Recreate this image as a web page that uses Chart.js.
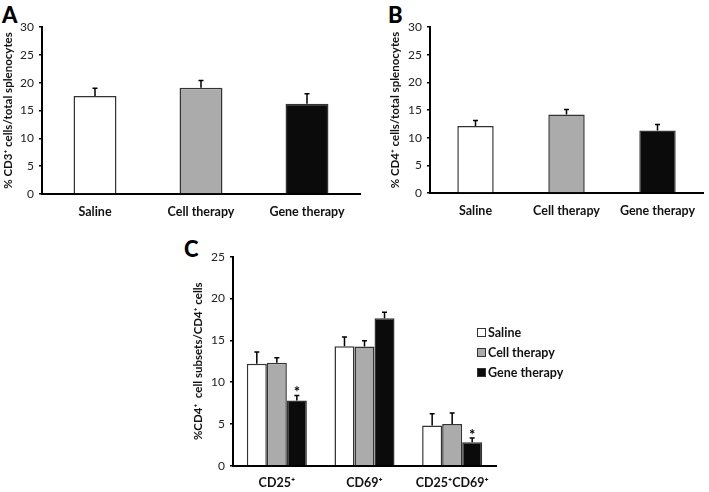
<!DOCTYPE html>
<html>
<head>
<meta charset="utf-8">
<script src="https://cdn.jsdelivr.net/npm/chart.js@4.4.0/dist/chart.umd.min.js"></script>
<style>
  body { margin: 0; background: #fff; width: 709px; height: 492px; position: relative; overflow: hidden; font-family: Lato, sans-serif; }
  .panel { position: absolute; }
  .letter { position: absolute; font-weight: 900; font-size: 22px; line-height: 1; color: #000; }
  #legend { position: absolute; left: 477px; top: 322px; font-weight: bold; font-size: 12.5px; color: #111; }
  #legend div { height: 20px; display: flex; align-items: center; }
  #legend .box { width: 9px; height: 9px; border: 1px solid #333; margin-right: 2px; box-sizing: border-box; }
</style>
</head>
<body>
<div class="letter" style="left:2px;top:4px">A</div>
<div class="letter" style="left:388px;top:4px">B</div>
<div class="letter" style="left:184px;top:238px">C</div>

<div class="panel" style="left:0;top:0;width:365px;height:230px"><canvas id="chartA"></canvas></div>
<div class="panel" style="left:387px;top:0;width:322px;height:230px"><canvas id="chartB"></canvas></div>
<div class="panel" style="left:190px;top:240px;width:310px;height:252px"><canvas id="chartC"></canvas></div>
<div id="legend"></div>

<script>
// data
const groups = ['Saline', 'Cell therapy', 'Gene therapy'];
const groupColors = ['#ffffff', '#ababab', '#0b0b0b'];

const cd3Mean = [17.6, 19.1, 16.2];
const cd3Err = [1.4, 1.3, 1.8];

const cd4Mean = [12.1, 14.2, 11.3];
const cd4Err = [1.0, 0.9, 1.1];

const subsets = ['CD25⁺', 'CD69⁺', 'CD25⁺CD69⁺'];
const salineMean = [12.2, 14.3, 4.8];
const salineErr = [1.4, 1.1, 1.4];
const cellMean = [12.3, 14.25, 5.0];
const cellErr = [0.6, 0.7, 1.3];
const geneMean = [7.8, 17.65, 2.8];
const geneErr = [0.6, 0.7, 0.5];
const geneSig = [true, false, true];

const FONT = 'Lato, sans-serif';

// upward-only error bars + significance stars
const errorBars = {
  id: 'errorBars',
  afterDatasetsDraw(chart) {
    const ctx = chart.ctx, y = chart.scales.y;
    chart.data.datasets.forEach((ds, di) => {
      if (!ds.errors) return;
      chart.getDatasetMeta(di).data.forEach((bar, i) => {
        const top = y.getPixelForValue(ds.data[i] + ds.errors[i]);
        ctx.save();
        ctx.strokeStyle = '#000';
        ctx.lineWidth = 1.5;
        ctx.beginPath();
        ctx.moveTo(bar.x, bar.y); ctx.lineTo(bar.x, top);
        ctx.moveTo(bar.x - 2.5, top); ctx.lineTo(bar.x + 2.5, top);
        ctx.stroke();
        if (ds.stars && ds.stars[i]) {
          ctx.fillStyle = '#000';
          ctx.font = 'bold 15px ' + FONT;
          ctx.textAlign = 'center';
          ctx.textBaseline = 'alphabetic';
          ctx.fillText('*', bar.x, top + 2);
        }
        ctx.restore();
      });
    });
  }
};

function barPanel(id, labels, datasets, opt) {
  const ctx = document.getElementById(id); if (!ctx) return;
  return new Chart(ctx, {
    type: 'bar',
    data: { labels, datasets },
    options: {
      responsive: true,
      maintainAspectRatio: false,
      animation: false,
      events: [],
      layout: { padding: { top: opt.padTop, right: opt.padRight, left: 0, bottom: 0 } },
      plugins: { legend: { display: false }, tooltip: { enabled: false } },
      scales: {
        x: {
          grid: { display: false, drawTicks: false },
          border: { display: true, color: '#000', width: 2 },
          ticks: { color: '#111', padding: 10, font: { family: FONT, size: 12.5, weight: 'bold' } },
          afterFit: s => { s.height = opt.xHeight; },
        },
        y: {
          min: 0, max: opt.yMax,
          ticks: { stepSize: 5, color: '#222', padding: 5, font: { family: FONT, size: 12 } },
          grid: { drawOnChartArea: false, drawTicks: true, tickLength: 3, color: '#000', lineWidth: 1.5 },
          border: { display: true, color: '#000', width: 2 },
          title: { display: true, text: opt.yTitle, color: '#111', padding: { top: 1, bottom: 0 },
                   font: { family: FONT, size: 11.5, weight: 'bold' } },
          afterFit: s => { s.width = opt.yWidth; },
        },
      },
    },
    plugins: [errorBars],
  });
}

Chart.defaults.font.family = FONT;

barPanel('chartA', groups, [{
  data: cd3Mean, errors: cd3Err, backgroundColor: groupColors,
  borderColor: '#333', borderWidth: 1.5, barPercentage: 0.405, categoryPercentage: 1,
}], { padTop: 27, padRight: 5, xHeight: 36, yWidth: 42, yMax: 30,
      yTitle: '% CD3⁺ cells/total splenocytes' });

barPanel('chartB', groups, [{
  data: cd4Mean, errors: cd4Err, backgroundColor: groupColors,
  borderColor: '#333', borderWidth: 1.5, barPercentage: 0.4, categoryPercentage: 1,
}], { padTop: 27, padRight: 6, xHeight: 37, yWidth: 43, yMax: 30,
      yTitle: '% CD4⁺ cells/total splenocytes' });

const subsetSeries = [
  { label: groups[0], data: salineMean, errors: salineErr, backgroundColor: groupColors[0] },
  { label: groups[1], data: cellMean, errors: cellErr, backgroundColor: groupColors[1] },
  { label: groups[2], data: geneMean, errors: geneErr, stars: geneSig, backgroundColor: groupColors[2] },
].map(d => Object.assign(d, { borderColor: '#333', borderWidth: 1.5, barPercentage: 1, categoryPercentage: 0.685 }));

barPanel('chartC', subsets, subsetSeries,
  { padTop: 16.7, padRight: 4, xHeight: 26.3, yWidth: 43, yMax: 25,
    yTitle: '%CD4⁺  cell subsets/CD4⁺ cells' });

// legend built from the datasets
const leg = document.getElementById('legend');
subsetSeries.forEach(d => {
  const row = document.createElement('div');
  const box = document.createElement('span');
  box.className = 'box';
  box.style.background = d.backgroundColor;
  row.appendChild(box);
  row.appendChild(document.createTextNode(d.label));
  leg.appendChild(row);
});
</script>
</body>
</html>
